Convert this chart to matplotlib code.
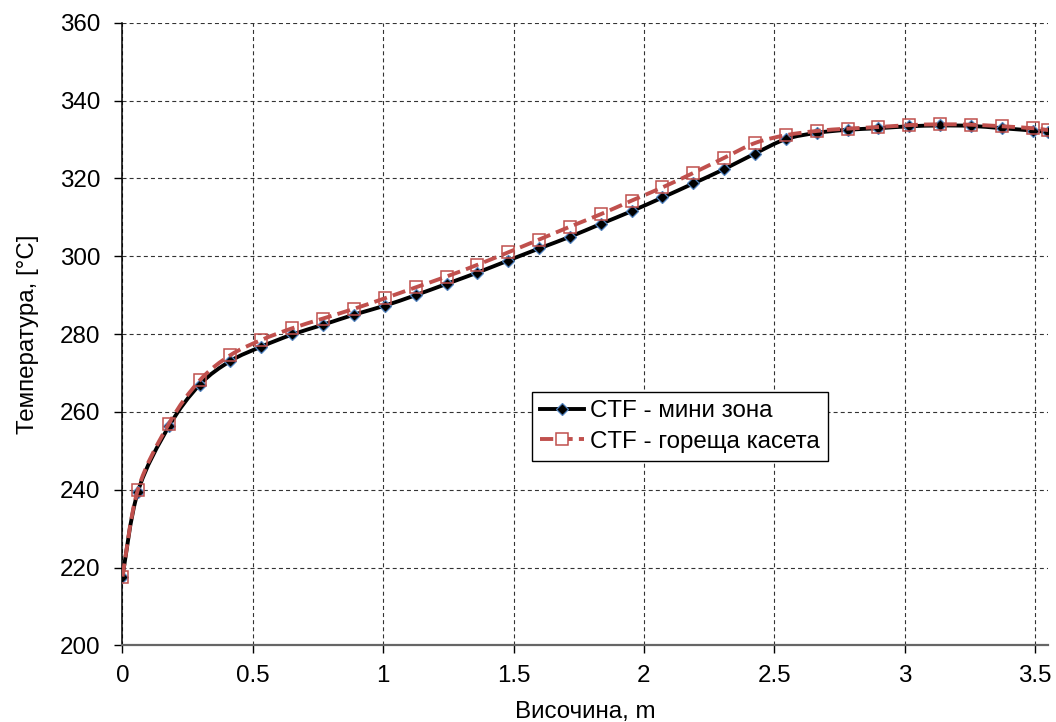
import numpy as np
import matplotlib
matplotlib.use("Agg")
import matplotlib.pyplot as plt
from matplotlib.path import Path
from matplotlib.patches import PathPatch
from matplotlib.lines import Line2D
from matplotlib.ticker import FuncFormatter, MultipleLocator

plt.rcParams["font.family"] = ["Liberation Sans", "DejaVu Sans"]

# axial node heights, m
height = [0.0, 0.059, 0.178, 0.296, 0.414, 0.533, 0.651, 0.769, 0.888, 1.006,
          1.124, 1.243, 1.361, 1.479, 1.598, 1.716, 1.834, 1.953, 2.071, 2.189,
          2.308, 2.426, 2.544, 2.663, 2.781, 2.899, 3.018, 3.136, 3.254, 3.373,
          3.491, 3.55]

# coolant temperature, degC
t_mini = [217.7, 239.5, 256.3, 267.0, 273.1, 276.8, 279.9, 282.4, 285.0, 287.3,
          290.0, 292.9, 295.8, 298.9, 302.0, 305.0, 308.3, 311.6, 315.1, 318.7,
          322.4, 326.4, 330.1, 331.7, 332.5, 332.9, 333.4, 333.6, 333.5, 332.9,
          332.3, 331.9]
t_hot = [217.7, 240.0, 257.0, 268.1, 274.6, 278.5, 281.5, 284.0, 286.5, 289.2,
         292.0, 294.8, 297.8, 301.0, 304.3, 307.6, 310.8, 314.3, 317.7, 321.4,
         325.3, 329.1, 331.1, 332.2, 332.8, 333.2, 333.7, 333.9, 333.8, 333.4,
         332.9, 332.4]

labels = ["CTF - мини зона", "CTF - гореща касета"]

RED = "#C0504D"
BLUE = "#4F81BD"
FS = 17.4


def smooth_path(x, y):
    """Cubic Bezier through the points, spreadsheet-style smoothing."""
    pts = np.column_stack([x, y])
    n = len(pts)
    verts = [pts[0]]
    codes = [Path.MOVETO]
    for i in range(n - 1):
        p0 = pts[max(i - 1, 0)]
        p1 = pts[i]
        p2 = pts[i + 1]
        p3 = pts[min(i + 2, n - 1)]
        verts += [p1 + (p2 - p0) / 6.0, p2 - (p3 - p1) / 6.0, p2]
        codes += [Path.CURVE4] * 3
    return Path(verts, codes)


fig = plt.figure(figsize=(10.56, 7.22), dpi=100)
ax = fig.add_axes([0.116, 0.106, 0.8765, 0.8625])

dash = (0, (3.4, 1.6))

ax.add_patch(PathPatch(smooth_path(height, t_mini), fill=False,
                       edgecolor="black", lw=2.8, zorder=3,
                       capstyle="round"))
ax.plot(height, t_mini, ls="none", marker="D", ms=6, mfc="black",
        mec=BLUE, mew=0.9, zorder=4)

ax.add_patch(PathPatch(smooth_path(height, t_hot), fill=False,
                       edgecolor=RED, lw=2.8, ls=dash, zorder=5))
ax.plot(height, t_hot, ls="none", marker="s", ms=8.5, mfc="none",
        mec=RED, mew=1.1, zorder=6)

ax.set_xlim(0, 3.55)
ax.set_ylim(200, 360)
ax.xaxis.set_major_locator(MultipleLocator(0.5))
ax.yaxis.set_major_locator(MultipleLocator(20))
ax.xaxis.set_major_formatter(FuncFormatter(lambda v, p: f"{v:g}"))

ax.grid(True, color="#333333", lw=0.8, ls=(0, (3.6, 2.8)))
ax.set_axisbelow(True)

for side in ("top", "right"):
    ax.spines[side].set_visible(False)
ax.spines["left"].set_color("black")
ax.spines["bottom"].set_color("#666666")
ax.spines["left"].set_linewidth(1.1)
ax.spines["bottom"].set_linewidth(1.6)

ax.tick_params(axis="both", direction="out", length=6, width=1,
               labelsize=FS, color="black")
ax.tick_params(axis="y", pad=10)
ax.tick_params(axis="x", pad=8)

ax.set_xlabel("Височина, m", fontsize=FS, labelpad=10)
ax.set_ylabel("Температура, [°C]", fontsize=FS, labelpad=15)

handles = [
    Line2D([], [], color="black", lw=2.8, marker="D", ms=6, mfc="black",
           mec=BLUE, mew=0.9),
    Line2D([], [], color=RED, lw=2.8, ls=dash, marker="s", ms=8.5,
           mfc="white", mec=RED, mew=1.1),
]
leg = ax.legend(handles, labels, loc="upper left",
                bbox_to_anchor=(532 / 1056, 1 - 392 / 722),
                bbox_transform=fig.transFigure, borderaxespad=0,
                fontsize=FS, frameon=True, fancybox=False,
                edgecolor="black", framealpha=1, handlelength=1.8,
                handletextpad=0.25, labelspacing=0.35, borderpad=0.35)
leg.get_frame().set_linewidth(1.0)

fig.savefig("out.png", dpi=100)
